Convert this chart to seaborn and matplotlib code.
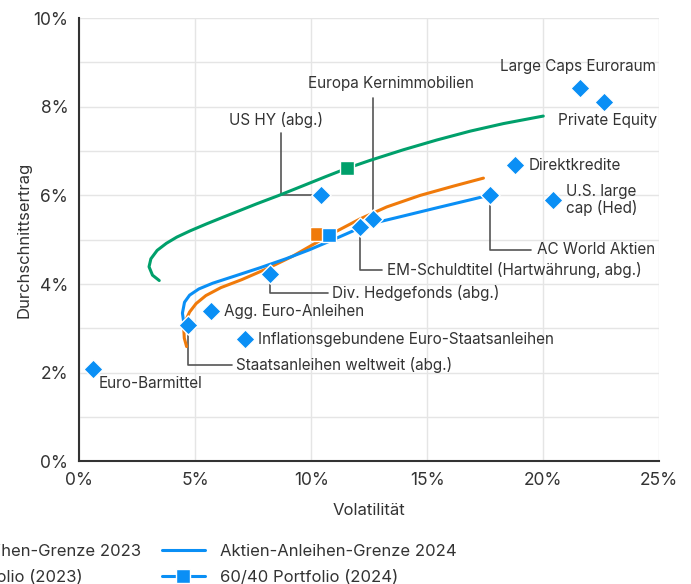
import matplotlib
matplotlib.use("Agg")
import matplotlib.pyplot as plt
from matplotlib.lines import Line2D
from matplotlib.ticker import FuncFormatter, MultipleLocator
import seaborn as sns
import pandas as pd

# Efficient frontiers (volatility %, return %)
frontier_2023_vol = [3.44, 3.15, 3.0, 3.08, 3.35, 3.75, 4.2, 4.77, 5.49, 6.2, 6.92, 7.64, 8.6,
                     9.65, 10.6, 11.53, 12.53, 13.97, 15.41, 16.85, 18.28, 20.0]
frontier_2023_ret = [4.08, 4.2, 4.39, 4.57, 4.76, 4.92, 5.06, 5.2, 5.36, 5.51, 5.66, 5.81, 6.0,
                     6.22, 6.42, 6.61, 6.79, 7.03, 7.25, 7.45, 7.62, 7.79]

frontier_2024_vol = [4.5, 4.44, 4.44, 4.53, 4.75, 5.15, 5.75, 6.75, 7.8, 8.9, 9.9, 10.8,
                     11.5, 12.1, 12.97, 14.0, 15.41, 16.85, 17.71]
frontier_2024_ret = [3.12, 3.27, 3.42, 3.59, 3.75, 3.89, 4.02, 4.19, 4.37, 4.57, 4.77, 4.97,
                     5.13, 5.27, 5.41, 5.54, 5.72, 5.90, 6.01]

frontier_other_vol = [4.62, 4.52, 4.5, 4.58, 4.75, 5.03, 5.45, 6.1, 7.0, 8.1, 9.2, 10.1,
                      10.9, 12.1, 13.25, 14.69, 16.13, 17.42]
frontier_other_ret = [2.59, 2.78, 2.97, 3.18, 3.37, 3.56, 3.74, 3.92, 4.1, 4.35, 4.63, 4.9,
                      5.14, 5.47, 5.74, 6.0, 6.21, 6.39]

# 60/40 portfolios
p6040_2023 = (11.53, 6.61)
p6040_other = (10.23, 5.12)
p6040_2024 = (10.78, 5.11)

# Asset classes
assets = ["Euro-Barmittel", "Staatsanleihen weltweit (abg.)", "Agg. Euro-Anleihen",
          "Inflationsgebundene Euro-Staatsanleihen", "Div. Hedgefonds (abg.)", "US HY (abg.)",
          "EM-Schuldtitel (Hartwährung, abg.)", "Europa Kernimmobilien", "AC World Aktien",
          "Direktkredite", "U.S. large\ncap (Hed)", "Large Caps Euroraum", "Private Equity"]
asset_vol = [0.6, 4.66, 5.66, 7.12, 8.2, 10.4, 12.1, 12.65, 17.7, 18.8, 20.4, 21.6, 22.6]
asset_ret = [2.08, 3.07, 3.39, 2.75, 4.22, 6.0, 5.28, 5.46, 6.0, 6.68, 5.89, 8.42, 8.1]

GREEN = "#00A06B"
BLUE = "#0A8FF5"
ORANGE = "#F07A0A"
TXT = "#333333"

sns.set_style("white")
plt.rcParams["font.family"] = ["Inter", "DejaVu Sans"]

fig = plt.figure(figsize=(6.91, 5.84), dpi=100)
ax = fig.add_axes([0.115, 0.21, 0.839, 0.759])


def frontier(vol, ret, color):
    df = pd.DataFrame({"vol": vol, "ret": ret})
    sns.lineplot(data=df, x="vol", y="ret", sort=False, color=color, lw=2.2, ax=ax, zorder=3)
    ax.lines[-1].set_solid_joinstyle("round")


frontier(frontier_2023_vol, frontier_2023_ret, GREEN)
frontier(frontier_other_vol, frontier_other_ret, ORANGE)
frontier(frontier_2024_vol, frontier_2024_ret, BLUE)

for (x, y), c in [(p6040_2023, GREEN), (p6040_other, ORANGE), (p6040_2024, BLUE)]:
    ax.plot([x], [y], marker="s", ms=10, color=c, mec="white", mew=1, zorder=5)

adf = pd.DataFrame({"vol": asset_vol, "ret": asset_ret, "name": assets})
sns.scatterplot(data=adf, x="vol", y="ret", marker="D", s=95, color=BLUE,
                edgecolor="white", linewidth=1, ax=ax, zorder=6)

# leader lines (elbows) and label anchors
leaders = {
    "US HY (abg.)": [(8.69, 7.41), (8.69, 6.0), (10.4, 6.0)],
    "Europa Kernimmobilien": [(12.65, 8.2), (12.65, 5.46)],
    "EM-Schuldtitel (Hartwährung, abg.)": [(12.1, 5.28), (12.1, 4.32), (13.05, 4.32)],
    "AC World Aktien": [(17.7, 6.0), (17.7, 4.77), (19.48, 4.77)],
    "Div. Hedgefonds (abg.)": [(8.2, 4.22), (8.2, 3.80), (10.72, 3.80)],
    "Staatsanleihen weltweit (abg.)": [(4.66, 3.07), (4.66, 2.18), (6.58, 2.18)],
}
for pts in leaders.values():
    ax.plot([p[0] for p in pts], [p[1] for p in pts], color="#555555", lw=1.2, zorder=2)

labels = {
    "US HY (abg.)": (8.48, 7.70, "center"),
    "Europa Kernimmobilien": (13.44, 8.53, "center"),
    "EM-Schuldtitel (Hartwährung, abg.)": (13.27, 4.32, "left"),
    "AC World Aktien": (19.73, 4.77, "left"),
    "Div. Hedgefonds (abg.)": (10.89, 3.80, "left"),
    "Staatsanleihen weltweit (abg.)": (6.75, 2.18, "left"),
    "Agg. Euro-Anleihen": (6.23, 3.39, "left"),
    "Inflationsgebundene Euro-Staatsanleihen": (7.7, 2.75, "left"),
    "Euro-Barmittel": (0.84, 1.75, "left"),
    "Direktkredite": (19.35, 6.68, "left"),
    "U.S. large\ncap (Hed)": (20.99, 5.9, "left"),
    "Large Caps Euroraum": (18.14, 8.9, "left"),
    "Private Equity": (20.64, 7.7, "left"),
}
for name, (x, y, ha) in labels.items():
    ax.text(x, y, name, ha=ha, va="center", fontsize=11, color=TXT, linespacing=1.1, zorder=7)

ax.set_xlim(0, 25)
ax.set_ylim(0, 10)
ax.xaxis.set_major_locator(MultipleLocator(5))
ax.yaxis.set_major_locator(MultipleLocator(2))
ax.yaxis.set_minor_locator(MultipleLocator(1))
pct = FuncFormatter(lambda v, _: f"{v:.0f}%")
ax.xaxis.set_major_formatter(pct)
ax.yaxis.set_major_formatter(pct)
ax.grid(True, which="both", color="#e5e5e5", lw=1)
ax.set_axisbelow(True)
for s in ["top", "right"]:
    ax.spines[s].set_visible(False)
for s in ["left", "bottom"]:
    ax.spines[s].set_color("#333333")
    ax.spines[s].set_linewidth(1.5)
ax.tick_params(axis="both", labelsize=12.5, colors=TXT, length=0, pad=8)
ax.tick_params(which="minor", length=0)
ax.set_xlabel("Volatilität", fontsize=12, color=TXT, labelpad=10)
ax.set_ylabel("Durchschnittsertrag", fontsize=12, color=TXT, labelpad=1)

handles = [
    Line2D([], [], color=GREEN, lw=2.2),
    Line2D([], [], color=GREEN, lw=2.2, marker="s", ms=10, mec="white"),
    Line2D([], [], color=BLUE, lw=2.2),
    Line2D([], [], color=BLUE, lw=2.2, marker="s", ms=10, mec="white"),
]
names = ["Aktien-Anleihen-Grenze 2023", "60/40 Portfolio (2023)",
         "Aktien-Anleihen-Grenze 2024", "60/40 Portfolio (2024)"]
fig.legend(handles, names, ncol=2, loc="center left", bbox_to_anchor=(-0.243, 0.034),
           frameon=False, fontsize=12, handlelength=2.6, handletextpad=0.9,
           columnspacing=1.2, labelspacing=0.65, labelcolor=TXT)

fig.savefig("out.png", dpi=100)
